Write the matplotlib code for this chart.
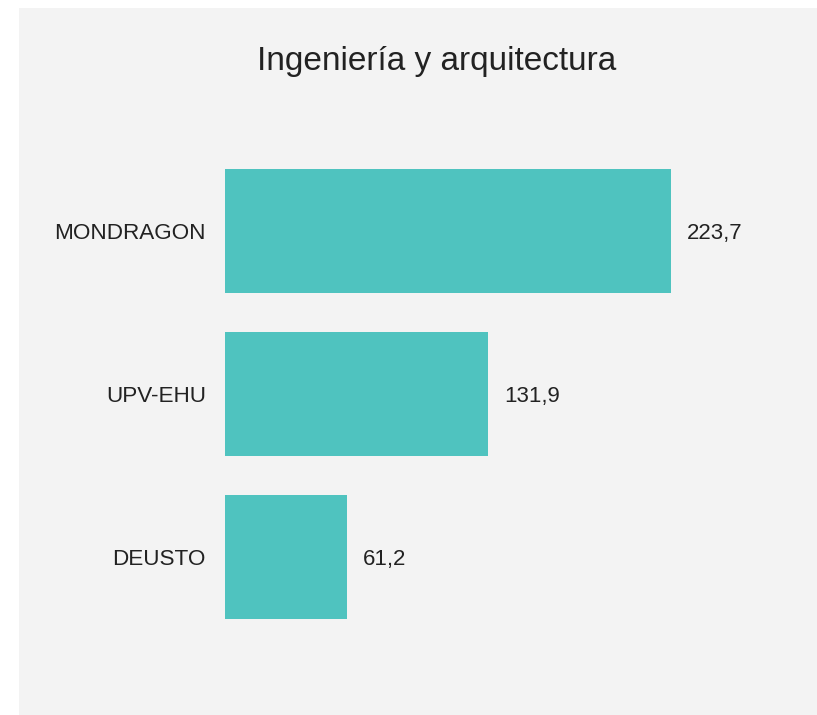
import matplotlib
matplotlib.use("Agg")
import matplotlib.pyplot as plt
from matplotlib.patches import Rectangle

categories = ["MONDRAGON", "UPV-EHU", "DEUSTO"]
values = [223.7, 131.9, 61.2]
value_labels = ["223,7", "131,9", "61,2"]
title = "Ingeniería y arquitectura"

W, H = 817, 715
fig = plt.figure(figsize=(W / 100, H / 100), dpi=100)
fig.patch.set_facecolor("white")
fig.patches.append(Rectangle((19 / W, 0), 1 - 19 / W, (H - 8) / H,
                             transform=fig.transFigure, facecolor="#f3f3f3",
                             edgecolor="none", zorder=-10))

plt.rcParams["font.family"] = ["Liberation Sans", "DejaVu Sans"]
txt_color = "#222222"
bar_color = "#4fc3bf"

# axes: x=0 at px 225, 1 unit = 1.994 px; y from px 149.5 to 638.5
x0 = 225
xmax = 250
ax_w = xmax * 1.994
top, bot = 149.5, 638.5
ax = fig.add_axes([x0 / W, 1 - bot / H, ax_w / W, (bot - top) / H])
ax.set_zorder(5)
ax.set_facecolor("none")
ypos = list(range(len(categories)))
ax.barh(ypos, values, height=0.76, color=bar_color)
ax.set_xlim(0, xmax)
ax.set_ylim(len(categories) - 0.5, -0.5)
ax.set_yticks(ypos)
ax.set_yticklabels(categories, fontsize=16.2, color=txt_color)
for t in ax.get_yticklabels():
    t.set_va("center_baseline")
ax.tick_params(axis="y", length=0, pad=13.7)
ax.set_xticks([])
for s in ax.spines.values():
    s.set_visible(False)

for y, v, lab in zip(ypos, values, value_labels):
    ax.annotate(lab, (v, y), xytext=(11.5, -1.5), textcoords="offset points",
                ha="left", va="center", fontsize=16, color=txt_color)

fig.text(437 / W, 1 - 70 / H, title, ha="center", va="baseline",
         fontsize=24, color=txt_color, zorder=6)

fig.savefig("out.png", dpi=100)
